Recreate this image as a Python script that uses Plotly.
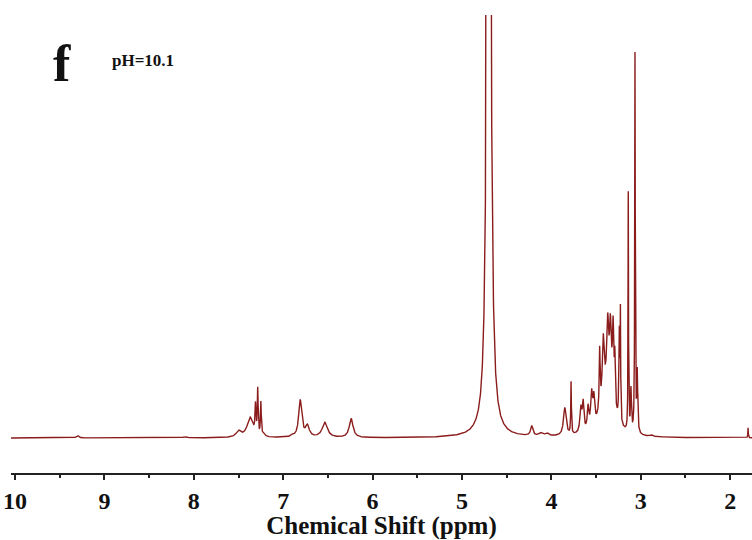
import numpy as np
import plotly.graph_objects as go

# Peak table: position (ppm), height (baseline = 0), FWHM (ppm)
peak_ppm = [9.30, 8.10, 7.50, 7.37, 7.31, 7.285, 7.25, 7.22, 6.90, 6.81, 6.73, 6.535, 6.24,
            4.70, 4.22, 4.12, 4.05,
            3.85, 3.78, 3.67, 3.645, 3.59, 3.55, 3.525, 3.46, 3.42, 3.38, 3.37, 3.34, 3.31,
            3.29, 3.24, 3.228, 3.14, 3.11, 3.065, 3.04, 2.88, 1.80]
peak_height = [2.5, 1.2, 6, 20, 28, 45, 33, 3, 2, 37, 11, 15, 19,
               2000, 10, 3, 3,
               28, 52, 24, 28, 22, 34, 26, 60, 60, 45, 64, 68, 78,
               48, 90, 102, 238, 42, 378, 60, 1.5, 10]
peak_fwhm = [0.03, 0.04, 0.06, 0.08, 0.012, 0.01, 0.01, 0.03, 0.03, 0.04, 0.05, 0.07, 0.05,
             0.028, 0.03, 0.05, 0.05,
             0.035, 0.008, 0.025, 0.02, 0.02, 0.025, 0.02, 0.012, 0.025, 0.16, 0.025, 0.025, 0.02,
             0.012, 0.012, 0.006, 0.006, 0.012, 0.007, 0.012, 0.03, 0.006]

x_ticks = [10, 9, 8, 7, 6, 5, 4, 3, 2]
x_title = "Chemical Shift (ppm)"
panel_label = "f"
condition_label = "pH=10.1"

ppm = np.linspace(10.05, 1.75, 8301)
spectrum = np.zeros_like(ppm)
for c, h, w in zip(peak_ppm, peak_height, peak_fwhm):
    g = w / 2.0
    spectrum += h * g**2 / ((ppm - c) ** 2 + g**2)

color = "#8b1c1c"
serif = "Liberation Serif"

fig = go.Figure()
fig.add_trace(go.Scatter(x=ppm, y=spectrum, mode="lines",
                         line=dict(color=color, width=1.4), hoverinfo="skip",
                         showlegend=False))

fig.update_layout(
    width=752, height=540,
    margin=dict(l=11, r=0, t=15, b=67),
    paper_bgcolor="white", plot_bgcolor="white",
    xaxis=dict(
        range=[10.045, 1.756], showgrid=False, zeroline=False,
        showline=True, linecolor="#222", linewidth=2,
        ticks="outside", ticklen=5, tickwidth=2, tickcolor="#222",
        tickvals=x_ticks, ticktext=[str(t) for t in x_ticks],
        minor=dict(ticks="outside", ticklen=3, tickwidth=1.5, tickcolor="#222", dtick=0.5),
        tickfont=dict(family=serif, size=24, color="#111", weight="bold"),
        title=dict(text=x_title, standoff=0,
                   font=dict(family=serif, size=25, color="#111", weight="bold")),
    ),
    yaxis=dict(range=[-35, 423], visible=False),
    annotations=[
        dict(text=panel_label, xref="paper", yref="paper", x=0.069, y=0.895,
             xanchor="center", yanchor="middle", showarrow=False,
             font=dict(family=serif, size=52, color="#111", weight="bold")),
        dict(text=condition_label, xref="paper", yref="paper", x=0.178, y=0.90,
             xanchor="center", yanchor="middle", showarrow=False,
             font=dict(family=serif, size=17, color="#111", weight="bold")),
    ],
)

fig.write_html("out.html")
